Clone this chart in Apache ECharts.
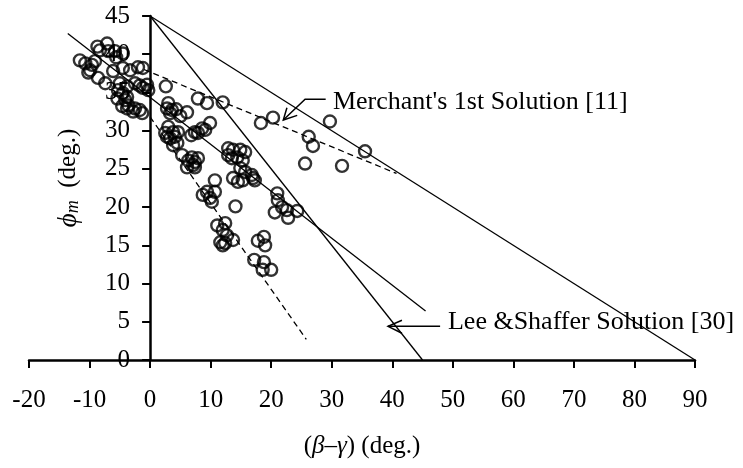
<!DOCTYPE html>
<html><head><meta charset="utf-8">
<script src="https://cdn.jsdelivr.net/npm/echarts@6/dist/echarts.min.js"></script>
<style>html,body{margin:0;padding:0;background:#fff}#c{width:743px;height:468px}</style>
</head><body><div id="c"></div>
<script>
// measured points: [β-γ (deg), φm (deg)]
const measuredPoints = [
[-11.6,39.2],[-10.7,38.8],[-9.6,38.6],[-9.1,39.1],[-9.9,37.9],[-8.6,36.9],[-7.4,36.2],
[-7.1,41.4],[-8.3,40.5],[-6.9,40.4],[-5.8,40.4],[-4.5,40.1],[-8.7,41.0],
[-6.1,37.8],[-4.5,38.2],[-3.3,37.9],[-2.0,38.3],[-1.2,38.2],
[-5.0,36.2],[-3.8,35.8],[-5.3,35.3],[-4.5,34.9],[-3.8,34.4],[-2.5,36.2],[-1.7,35.9],[-0.3,35.3],[-1.2,35.6],[-0.5,36.0],
[-4.1,34.0],[-4.6,33.2],[-3.8,32.9],[-2.5,32.9],[-1.7,32.7],[-1.3,32.3],[-2.8,32.5],[-3.6,33.3],[-5.4,34.2],[-5.6,39.6],[-10.2,37.6],
[2.6,35.8],[7.9,34.2],[9.4,33.6],[12.0,33.7],[18.3,31.0],[20.3,31.7],[29.7,31.2],[26.2,29.2],[26.9,28.0],[25.6,25.7],[31.7,25.4],[35.5,27.3],
[3.0,33.6],[2.8,32.9],[3.6,32.7],[4.3,32.8],[6.1,32.4],[3.3,32.3],[5.0,31.9],
[9.9,31.0],[8.6,30.3],[7.4,29.8],[6.8,29.4],[9.1,30.1],[7.9,29.7],
[3.0,30.5],[2.5,29.7],[3.8,29.8],[4.1,29.2],[3.3,29.0],[4.6,29.8],[2.8,29.2],[4.5,28.4],[3.8,28.1],
[5.3,26.8],[6.9,26.5],[7.4,25.9],[6.3,26.1],[7.1,25.5],[7.9,26.4],[6.1,25.2],[7.4,25.2],
[12.9,27.7],[13.7,27.5],[14.9,27.5],[15.7,27.2],[12.9,26.8],[14.4,26.5],[15.3,26.1],[13.5,26.4],
[10.7,23.5],[13.7,23.8],[14.5,23.3],[15.3,23.5],[15.7,24.6],[14.9,25.1],[16.8,24.2],[17.3,23.5],[17.0,23.8],
[9.4,22.0],[8.7,21.6],[9.9,21.2],[10.2,20.7],[10.7,22.0],[14.1,20.1],
[11.1,17.6],[12.4,17.9],[12.0,17.0],[12.7,16.3],[11.6,15.4],[12.4,15.3],[13.7,15.7],[12.0,15.0],
[17.8,15.6],[18.8,16.1],[19.0,15.0],[17.2,13.1],[18.8,12.8],[18.6,11.8],[20.0,11.8],
[21.0,21.8],[21.1,20.9],[21.8,20.0],[20.6,19.3],[22.6,19.6],[24.3,19.5],[22.8,18.6]
];
const merchantLine = [[0,45],[90,0]];
const leeShafferLine = [[0,45],[45,0]];
const fitLine = [[-13.6,42.7],[45.5,6.4]];
const dashedUpper = [[-1,38],[40.7,24.4]];
const dashedLower = [[0,31.8],[25.8,2.7]];
const merchantLabel = "Merchant's 1st Solution [11]";
const leeLabel = "Lee &Shaffer Solution [30]";
// annotation anchors (data coords)
const merchantText = [30.2,33.5];
const merchantArrow = [[29.0,34.1],[25.6,34.1],[22.0,31.4]];
const merchantHead = [[22.6,33.0],[22.0,31.4],[24.3,32.0]];
const leeText = [49.2,4.7];
const leeArrow = [[47.9,4.4],[39.3,4.4]];
const leeHead = [[41.6,5.2],[39.3,4.4],[41.6,3.5]];

const FONT = "'Liberation Serif','Times New Roman',serif";
const GRID_LEFT = 29;
const chart = echarts.init(document.getElementById('c'), null, {renderer:'canvas'});
const lineStyleSolid = {color:'#000', width:1.3, type:'solid'};
const lineStyleDash = {color:'#000', width:1.3, type:[6,4]};
function lineSeries(d, ls){ return {type:'line', data:d, symbol:'none', lineStyle:ls, silent:true, z:2, animation:false}; }
chart.setOption({
  animation:false,
  backgroundColor:'#fff',
  grid:{left:GRID_LEFT, right:48, top:16, bottom:108, containLabel:false, outerBoundsMode:'none'},
  xAxis:{type:'value', min:-20, max:90, interval:10,
    axisLine:{onZero:true, lineStyle:{color:'#000', width:2.5}},
    axisTick:{show:true, inside:false, length:8, lineStyle:{color:'#000', width:2}},
    axisLabel:{color:'#000', fontFamily:FONT, fontSize:25, margin:28},
    splitLine:{show:false},
    name:'({g|β}–{g|γ}) (deg.)', nameLocation:'middle', nameGap:74,
    nameTextStyle:{color:'#000', fontFamily:FONT, fontSize:25,
      rich:{g:{fontFamily:FONT, fontSize:25, fontStyle:'italic', color:'#000'}}}
  },
  yAxis:{type:'value', min:0, max:45, interval:5, position:'left',
    axisLine:{onZero:false, lineStyle:{color:'#000', width:2.5}},
    axisTick:{show:true, inside:false, length:8, lineStyle:{color:'#000', width:2}},
    axisLabel:{color:'#000', fontFamily:FONT, fontSize:25, margin:20},
    splitLine:{show:false},
    name:'{phi|ϕ}{sub|m}  (deg.)', nameLocation:'middle', nameGap:68, nameRotate:90,
    nameTextStyle:{color:'#000', fontFamily:FONT, fontSize:25, padding:[0,0,0,20],
      rich:{phi:{fontFamily:FONT, fontSize:27, fontStyle:'italic', color:'#000'},
            sub:{fontFamily:FONT, fontSize:18, fontStyle:'italic', color:'#000', verticalAlign:'bottom', padding:[8,0,0,0]}}}
  },
  series:[
    lineSeries(merchantLine, lineStyleSolid),
    lineSeries(leeShafferLine, lineStyleSolid),
    lineSeries(fitLine, lineStyleSolid),
    lineSeries(dashedUpper, lineStyleDash),
    lineSeries(dashedLower, lineStyleDash),
    {type:'scatter', data:measuredPoints, symbol:'circle', symbolSize:12, z:5,
     itemStyle:{color:'rgba(0,0,0,0)', borderColor:'#000', borderWidth:2.4}}
  ]
});
function px(p){ return chart.convertToPixel({gridIndex:0}, p); }
// place the y axis at x = 0
const zeroX = px([0,0])[0];
chart.setOption({yAxis:{offset:-(zeroX - GRID_LEFT)}});
const mt = px(merchantText), lt = px(leeText);
chart.setOption({graphic:[
  {type:'text', left:mt[0], top:mt[1]-15, style:{text:merchantLabel, font:'26px '+FONT, fill:'#000'}},
  {type:'polyline', shape:{points:merchantArrow.map(px)}, style:{stroke:'#000', lineWidth:1.5, fill:null}},
  {type:'polyline', shape:{points:merchantHead.map(px)}, style:{stroke:'#000', lineWidth:1.5, fill:null}},
  {type:'text', left:lt[0], top:lt[1]-15, style:{text:leeLabel, font:'26px '+FONT, fill:'#000'}},
  {type:'polyline', shape:{points:leeArrow.map(px)}, style:{stroke:'#000', lineWidth:1.5, fill:null}},
  {type:'polyline', shape:{points:leeHead.map(px)}, style:{stroke:'#000', lineWidth:1.5, fill:null}}
]});
</script></body></html>
